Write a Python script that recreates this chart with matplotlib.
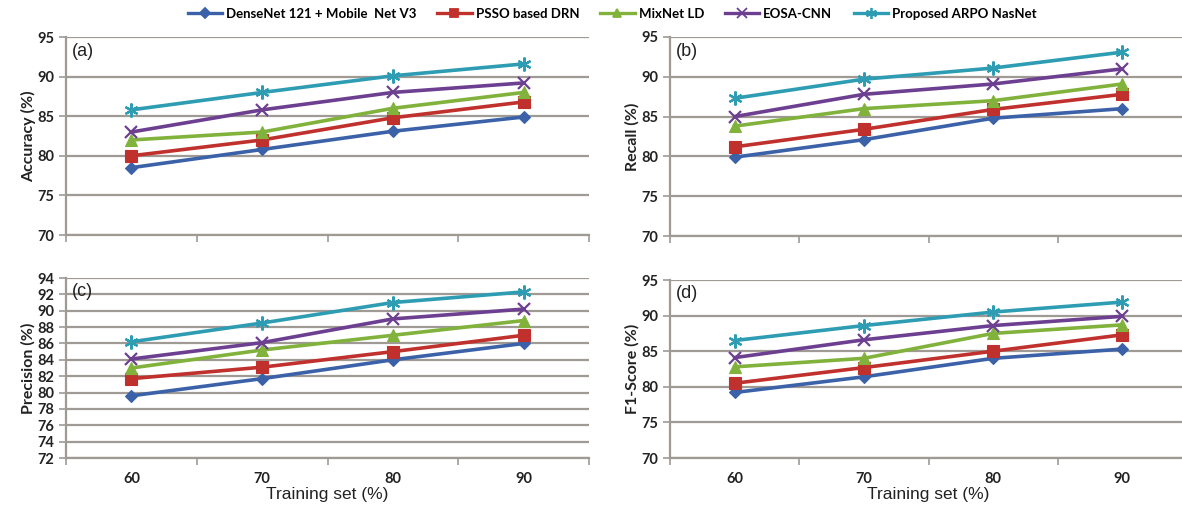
import matplotlib.pyplot as plt
from matplotlib.lines import Line2D

plt.rcParams["font.family"] = ["Lato", "DejaVu Sans"]

training_set = ["60", "70", "80", "90"]
model_names = [
    "DenseNet 121 + Mobile  Net V3",
    "PSSO based DRN",
    "MixNet LD",
    "EOSA-CNN",
    "Proposed ARPO NasNet",
]

accuracy = [
    [78.5, 80.8, 83.1, 84.9],
    [80.0, 82.0, 84.8, 86.8],
    [82.0, 83.0, 86.0, 88.0],
    [83.0, 85.8, 88.0, 89.2],
    [85.8, 88.0, 90.1, 91.6],
]
recall = [
    [79.9, 82.1, 84.8, 86.0],
    [81.2, 83.4, 85.9, 87.8],
    [83.8, 86.0, 87.0, 89.1],
    [85.0, 87.8, 89.1, 91.0],
    [87.3, 89.7, 91.1, 93.1],
]
precision = [
    [79.6, 81.7, 84.0, 86.0],
    [81.7, 83.1, 85.0, 87.0],
    [83.0, 85.2, 87.0, 88.8],
    [84.1, 86.1, 89.0, 90.2],
    [86.2, 88.5, 91.0, 92.3],
]
f1_score = [
    [79.2, 81.4, 84.0, 85.3],
    [80.5, 82.7, 85.0, 87.3],
    [82.8, 84.0, 87.5, 88.7],
    [84.1, 86.6, 88.6, 89.9],
    [86.5, 88.6, 90.5, 91.9],
]

colors = ["#3b62a8", "#c0312d", "#80b23c", "#6d3f91", "#2e9db3"]
markers = ["D", "s", "^", "x", (6, 2, 0)]
msizes = [6, 8, 8, 9, 10]
grid_col = "#a09a94"
txt_col = "#222222"

W, H = 1182, 505
fig = plt.figure(figsize=(W / 100, H / 100), dpi=100)


def px_axes(left, right, top, bottom):
    return fig.add_axes([left / W, 1 - bottom / H, (right - left) / W, (bottom - top) / H])


panels = [
    (px_axes(66, 589, 37, 235), accuracy, "Accuracy (%)", "(a)", (70, 95, 5), False),
    (px_axes(670, 1187, 37, 236), recall, "Recall (%)", "(b)", (70, 95, 5), False),
    (px_axes(66, 589, 278, 458), precision, "Precision (%)", "(c)", (72, 94, 2), True),
    (px_axes(670, 1187, 280, 458), f1_score, "F1-Score (%)", "(d)", (70, 95, 5), True),
]

x = list(range(len(training_set)))
for ax, data, ylab, tag, (lo, hi, step), show_x in panels:
    for vals, c, m, ms in zip(data, colors, markers, msizes):
        thin = m == "x" or isinstance(m, tuple)
        ax.plot(x, vals, color=c, lw=2.6, marker=m, markersize=ms,
                markeredgewidth=1.6 if thin else 0.8,
                markeredgecolor=c, markerfacecolor=c, zorder=3)
    ax.set_xlim(-0.5, 3.5)
    ax.set_ylim(lo, hi)
    yt = list(range(lo, hi + 1, step))
    ax.set_yticks(yt, [str(v) for v in yt], fontsize=10.5, fontweight="bold", color=txt_col)
    ax.yaxis.grid(True, color=grid_col, lw=1.6)
    ax.set_axisbelow(True)
    for s in ("top", "right"):
        ax.spines[s].set_visible(False)
    for s in ("left", "bottom"):
        ax.spines[s].set_color(grid_col)
        ax.spines[s].set_linewidth(1.6)
    ax.set_xticks([i - 0.5 for i in range(5)], [""] * 5)
    ax.tick_params(axis="x", which="major", length=5, direction="out", color=grid_col, width=1.2)
    if show_x:
        ax.set_xticks(x, training_set, minor=True, fontsize=10.5, fontweight="bold", color=txt_col)
        ax.set_xlabel("Training set (%)", fontsize=12.5, family=["Liberation Sans", "DejaVu Sans"],
                      color=txt_col, labelpad=1)
    else:
        ax.set_xticks(x, minor=True)
    ax.tick_params(axis="x", which="minor", length=0, pad=10)
    ax.tick_params(axis="y", length=5, direction="out", color=grid_col, width=1.2)
    ax.set_ylabel(ylab, fontsize=11.5, fontweight="bold", color=txt_col, labelpad=1)
    ax.text(0.012, 0.97, tag, transform=ax.transAxes, ha="left", va="top", fontsize=13,
            family=["Liberation Sans", "DejaVu Sans"], color=txt_col)

handles = [
    Line2D([], [], color=c, lw=2.4, marker=m, markersize=ms * 0.8, markeredgecolor=c,
           markerfacecolor=c, markeredgewidth=1.3)
    for c, m, ms in zip(colors, markers, msizes)
]
fig.legend(handles, model_names, loc="center", bbox_to_anchor=(612 / W, 1 - 14 / H), ncol=5,
           frameon=False, handlelength=2.6, handletextpad=0.3, columnspacing=1.6,
           prop={"size": 9.5, "weight": "bold"})

fig.savefig("out.png", dpi=100)
